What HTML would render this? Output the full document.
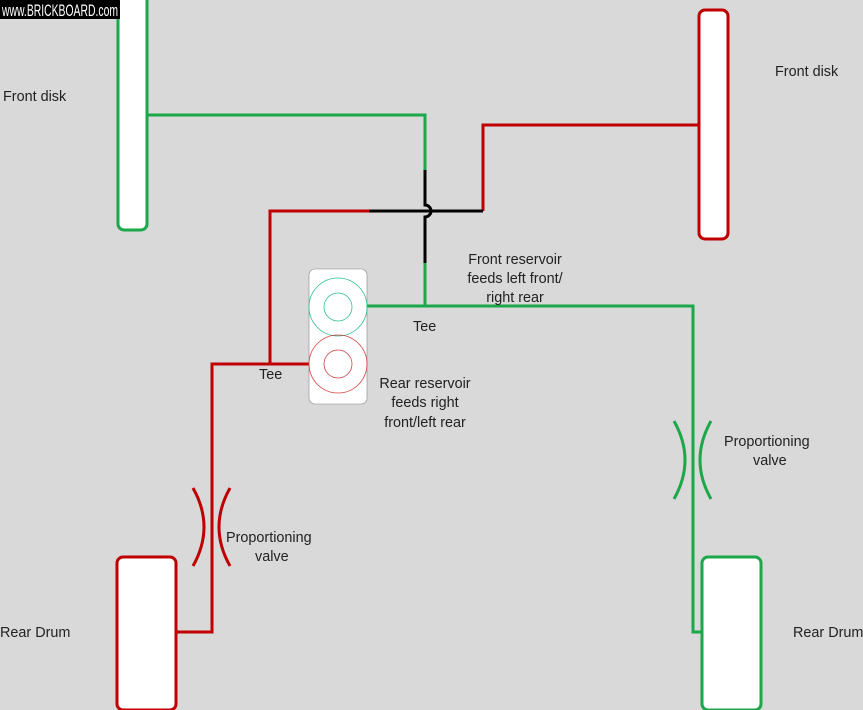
<!DOCTYPE html>
<html><head><style>
body{margin:0;background:#d9d9d9;}
svg{display:block;font-family:"Liberation Sans",sans-serif;}
</style></head><body>
<svg width="863" height="710" viewBox="0 0 863 710">
<rect width="863" height="710" fill="#d9d9d9"/>
<g fill="white" stroke-width="3">
<rect x="118" y="-6" width="29" height="236" rx="6" stroke="#1aa84a"/>
<rect x="699" y="10" width="29" height="229" rx="6" stroke="#c00000"/>
<rect x="117" y="557" width="59" height="153" rx="6" stroke="#c00000"/>
<rect x="702" y="557" width="59" height="153" rx="6" stroke="#1aa84a"/>
</g>
<g fill="none" stroke-width="3">
<polyline points="147,115 425,115 425,170" stroke="#1aa84a"/>
<path d="M425,170 V205 A6,6 0 0 1 425,217 V263" stroke="#000"/>
<polyline points="425,263 425,306" stroke="#1aa84a"/>
<polyline points="367,306 693,306 693,632 702,632" stroke="#1aa84a"/>
<polyline points="699,125 483,125 483,211" stroke="#c00000"/>
<polyline points="483,211 369,211" stroke="#000"/>
<polyline points="369,211 270,211 270,364" stroke="#c00000"/>
<polyline points="310,364 212,364 212,632 176,632" stroke="#c00000"/>
<path d="M193,488 Q215,527 193,566 M230,488 Q208,527 230,566" stroke="#c00000"/>
<path d="M674,421 Q696,460 674,499 M711,421 Q689,460 711,499" stroke="#1aa84a"/>
</g>
<rect x="309" y="269" width="58" height="135" rx="6" fill="white" stroke="#888" stroke-width="0.6"/>
<g fill="none" stroke-width="0.8">
<circle cx="338" cy="307" r="29" stroke="#2dbf8a"/>
<circle cx="338" cy="307" r="14" stroke="#2dbf8a"/>
<circle cx="338" cy="364" r="29" stroke="#d04040"/>
<circle cx="338" cy="364" r="14" stroke="#d04040"/>
</g>
<rect x="0" y="0" width="120" height="19" fill="#000"/>
<text x="2" y="16" font-size="17" fill="#fff" textLength="116" lengthAdjust="spacingAndGlyphs">www.BRICKBOARD.com</text>
<g font-size="14.4" fill="#222">
<text x="3" y="101">Front disk</text>
<text x="775" y="76">Front disk</text>
<text x="0" y="637">Rear Drum</text>
<text x="793" y="637">Rear Drum</text>
<text x="413" y="331">Tee</text>
<text x="259" y="379">Tee</text>
<text x="515" y="264" text-anchor="middle">Front reservoir</text>
<text x="515" y="283" text-anchor="middle">feeds left front/</text>
<text x="515" y="302" text-anchor="middle">right rear</text>
<text x="425" y="388" text-anchor="middle">Rear reservoir</text>
<text x="425" y="407" text-anchor="middle">feeds right</text>
<text x="425" y="427" text-anchor="middle">front/left rear</text>
<text x="226" y="542">Proportioning</text>
<text x="255" y="561">valve</text>
<text x="724" y="446">Proportioning</text>
<text x="753" y="465">valve</text>
</g>
</svg>
</body></html>
